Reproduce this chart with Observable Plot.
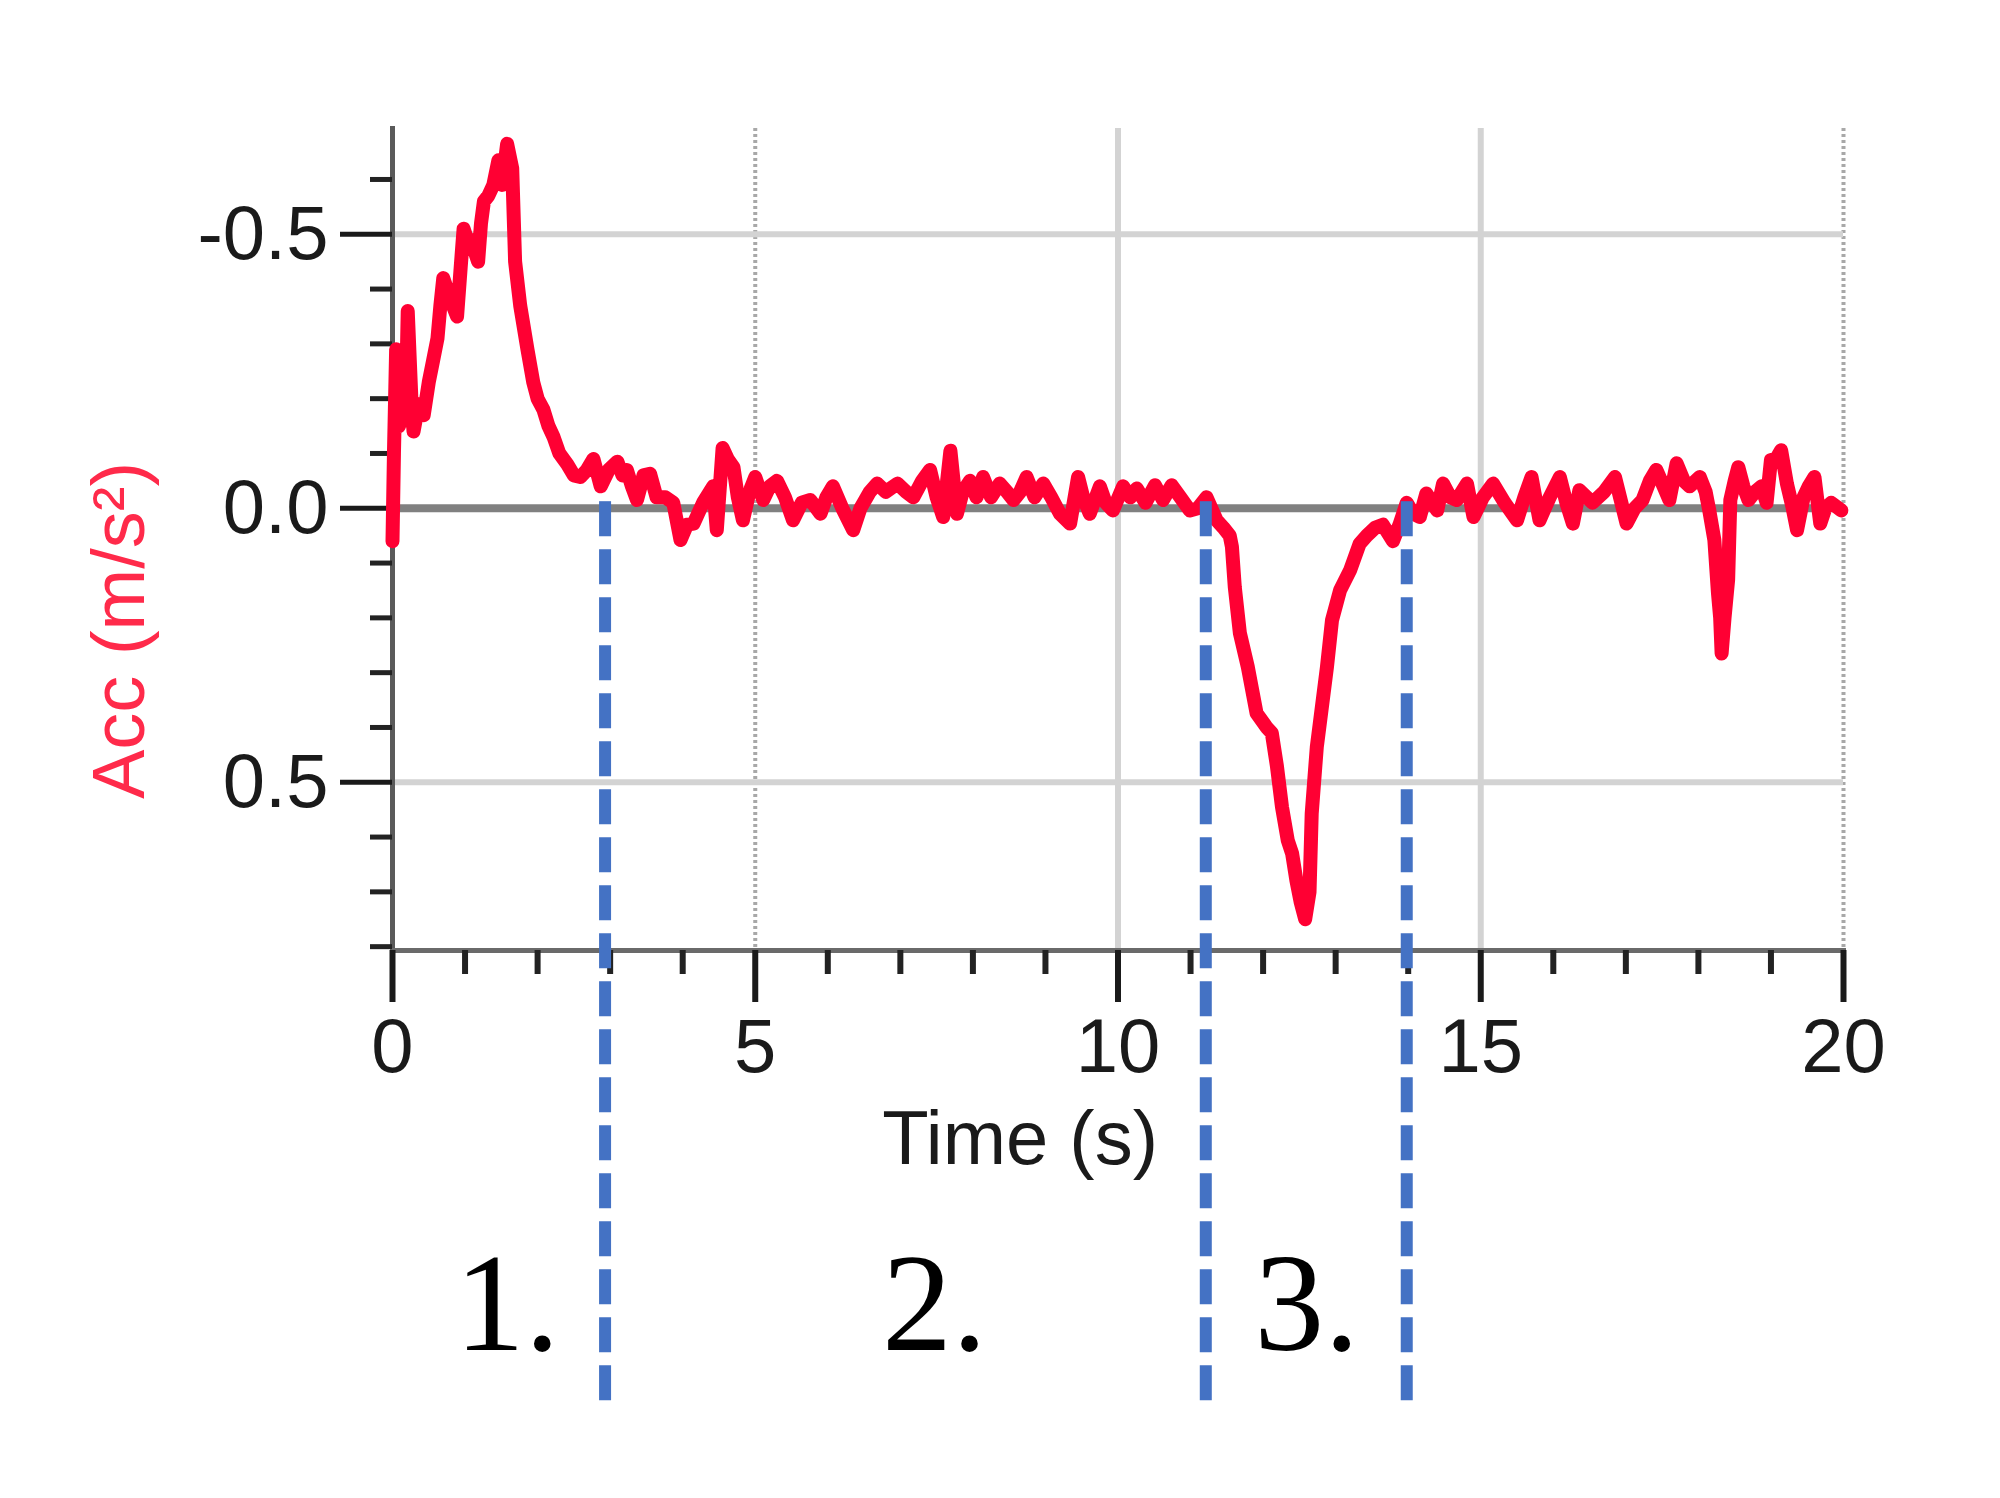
<!DOCTYPE html>
<html>
<head>
<meta charset="utf-8">
<script src="https://cdn.jsdelivr.net/npm/d3@7"></script>
<script src="https://cdn.jsdelivr.net/npm/@observablehq/plot@0.6"></script>
<style>
  html, body { margin: 0; padding: 0; background: #ffffff; }
  #chart svg { display: block; }
</style>
</head>
<body>
<div id="chart"></div>
<script>
// ---- data ----
const time = [
  0.00, 0.02, 0.05, 0.09, 0.14, 0.18, 0.21, 0.26, 0.29, 0.36, 0.43, 0.50, 0.56, 0.62, 0.66, 0.70,
  0.75, 0.80, 0.89, 0.94, 0.98, 1.03, 1.07, 1.13, 1.18, 1.22, 1.26, 1.32, 1.39, 1.46, 1.51, 1.58,
  1.65, 1.69, 1.76, 1.86, 1.94, 2.00, 2.08, 2.15, 2.22, 2.30, 2.41, 2.50, 2.59, 2.68, 2.77, 2.87,
  2.98, 3.10, 3.17, 3.23, 3.30, 3.37, 3.46, 3.55, 3.64, 3.76, 3.87, 3.97, 4.06, 4.15, 4.28, 4.42,
  4.47, 4.55, 4.62, 4.70, 4.76, 4.83, 4.92, 5.00, 5.11, 5.20, 5.30, 5.41, 5.52, 5.64, 5.76, 5.90,
  5.98, 6.07, 6.20, 6.35, 6.45, 6.58, 6.68, 6.80, 6.96, 7.08, 7.18, 7.30, 7.41, 7.50, 7.59, 7.69,
  7.78, 7.86, 7.96, 8.05, 8.14, 8.25, 8.37, 8.47, 8.56, 8.65, 8.74, 8.85, 8.97, 9.08, 9.20, 9.34,
  9.45, 9.52, 9.61, 9.75, 9.83, 9.93, 10.07, 10.17, 10.26, 10.38, 10.51, 10.62, 10.74, 10.86, 10.99, 11.10,
  11.22, 11.36, 11.45, 11.54, 11.57, 11.61, 11.68, 11.79, 11.91, 12.05, 12.12, 12.19, 12.26, 12.34, 12.40, 12.46,
  12.52, 12.58, 12.64, 12.67, 12.74, 12.81, 12.88, 12.95, 13.06, 13.20, 13.33, 13.43, 13.55, 13.65, 13.79, 13.88,
  13.98, 14.07, 14.16, 14.25, 14.40, 14.48, 14.58, 14.67, 14.81, 14.90, 15.03, 15.17, 15.33, 15.50, 15.60, 15.70,
  15.81, 15.95, 16.09, 16.18, 16.27, 16.36, 16.54, 16.70, 16.85, 17.01, 17.12, 17.23, 17.33, 17.42, 17.52, 17.60,
  17.70, 17.80, 17.88, 18.02, 18.10, 18.15, 18.22, 18.27, 18.30, 18.32, 18.36, 18.41, 18.44, 18.50, 18.55, 18.62,
  18.69, 18.78, 18.87, 18.94, 19.00, 19.07, 19.14, 19.22, 19.30, 19.36, 19.45, 19.52, 19.60, 19.68, 19.75, 19.83,
  19.97
];
const acc = [
  0.06, -0.10, -0.29, -0.15, -0.22, -0.16, -0.36, -0.20, -0.14, -0.19, -0.17, -0.23, -0.27, -0.31, -0.37, -0.42,
  -0.40, -0.38, -0.35, -0.44, -0.51, -0.49, -0.49, -0.47, -0.45, -0.52, -0.56, -0.57, -0.59, -0.635, -0.59, -0.665,
  -0.62, -0.45, -0.37, -0.29, -0.23, -0.20, -0.18, -0.15, -0.13, -0.10, -0.08, -0.06, -0.057, -0.07, -0.09, -0.04,
  -0.07, -0.085, -0.06, -0.07, -0.04, -0.015, -0.06, -0.063, -0.02, -0.02, -0.01, 0.058, 0.03, 0.028, -0.01, -0.04,
  0.04, -0.11, -0.09, -0.075, -0.02, 0.022, -0.03, -0.057, -0.015, -0.04, -0.05, -0.02, 0.022, -0.01, -0.015, 0.01,
  -0.02, -0.04, 0.0, 0.04, 0.0, -0.03, -0.045, -0.03, -0.045, -0.03, -0.02, -0.05, -0.07, -0.02, 0.016, -0.105,
  0.01, -0.03, -0.05, -0.02, -0.057, -0.02, -0.045, -0.03, -0.015, -0.03, -0.057, -0.02, -0.045, -0.02, 0.01, 0.028,
  -0.057, -0.02, 0.01, -0.04, -0.01, 0.004, -0.04, -0.02, -0.036, -0.01, -0.042, -0.015, -0.042, -0.02, 0.004, 0.0,
  -0.02, 0.022, 0.035, 0.05, 0.07, 0.144, 0.228, 0.29, 0.374, 0.40, 0.41, 0.47, 0.545, 0.606, 0.63, 0.68,
  0.72, 0.75, 0.70, 0.557, 0.436, 0.363, 0.29, 0.204, 0.15, 0.113, 0.065, 0.05, 0.035, 0.03, 0.06, 0.03,
  -0.01, 0.01, 0.016, -0.027, 0.004, -0.045, -0.02, -0.015, -0.045, 0.016, -0.02, -0.045, -0.01, 0.022, -0.02, -0.057,
  0.022, -0.02, -0.057, -0.01, 0.028, -0.033, -0.01, -0.03, -0.057, 0.028, 0.0, -0.015, -0.05, -0.07, -0.04, -0.015,
  -0.082, -0.05, -0.04, -0.057, -0.03, 0.004, 0.058, 0.155, 0.20, 0.265, 0.20, 0.13, -0.015, -0.05, -0.075, -0.04,
  -0.015, -0.03, -0.04, -0.01, -0.088, -0.09, -0.106, -0.045, 0.0, 0.04, -0.02, -0.04, -0.057, 0.028, 0.0, -0.01,
  0.004
];
const xTicks = [0, 5, 10, 15, 20];
const xMinorTicks = [1, 2, 3, 4, 6, 7, 8, 9, 11, 12, 13, 14, 16, 17, 18, 19];
const yTicks = [-0.5, 0, 0.5];
const yTickLabels = ["-0.5", "0.0", "0.5"];
const yMinorTicks = [-0.6, -0.4, -0.3, -0.2, -0.1, 0.1, 0.2, 0.3, 0.4, 0.6, 0.7, 0.8];
const xGridSolid = [10, 15];
const xGridDotted = [5, 20];
const yGrid = [-0.5, 0.5];
const dividers = [2.93, 11.21, 13.98];
const dividerEnd = 1.651;          // acceleration value where the dashed dividers stop (below the axis)
const sectionLabels = ["1.", "2.", "3."];
const sectionTimes = [1.58, 7.47, 12.6];
const xLabel = "Time (s)";
const xLabelTime = 8.65;
const yLabel = "Acc (m/s²)";

// ---- chart ----
const data = time.map((t, i) => ({t, a: acc[i]}));
const sansFont = "'Liberation Sans Narrow','Liberation Sans',Arial,sans-serif";

const chart = Plot.plot({
  width: 2000,
  height: 1498,
  marginLeft: 392,
  marginRight: 157,
  marginTop: 128,
  marginBottom: 548,
  style: {background: "#ffffff", overflow: "visible", fontFamily: sansFont},
  x: {domain: [0, 20]},
  y: {domain: [-0.693, 0.807], reverse: true},
  marks: [
    Plot.ruleX(xGridSolid, {stroke: "#d3d3d3", strokeWidth: 6}),
    Plot.ruleX(xGridDotted, {stroke: "#a8a8a8", strokeWidth: 4, strokeDasharray: "3,3"}),
    Plot.ruleY(yGrid, {stroke: "#d3d3d3", strokeWidth: 6}),
    Plot.ruleY([0], {stroke: "#808080", strokeWidth: 8}),
    Plot.frame({anchor: "left", stroke: "#5a5a5a", strokeWidth: 5}),
    Plot.frame({anchor: "bottom", stroke: "#6a6a6a", strokeWidth: 5}),
    Plot.axisY(yMinorTicks, {anchor: "left", tickSize: 22, tickFormat: () => "", label: null, stroke: "#222", strokeWidth: 5}),
    Plot.axisY(yTicks, {
      anchor: "left", tickSize: 52, tickPadding: 12, label: null,
      tickFormat: d => yTickLabels[yTicks.indexOf(d)],
      fontSize: 76, fontFamily: sansFont, color: "#1a1a1a", strokeWidth: 5
    }),
    Plot.axisX(xMinorTicks, {anchor: "bottom", tickSize: 24, tickFormat: () => "", label: null, stroke: "#222", strokeWidth: 6}),
    Plot.axisX(xTicks, {
      anchor: "bottom", tickSize: 52, tickPadding: 16, label: null,
      fontSize: 76, fontFamily: sansFont, color: "#1a1a1a", strokeWidth: 6
    }),
    Plot.line(data, {x: "t", y: "a", stroke: "#ff0033", strokeWidth: 14, strokeLinejoin: "round", clip: false}),
    Plot.ruleX(dividers, {y1: -0.012, y2: dividerEnd, stroke: "#4472c4", strokeWidth: 12, strokeDasharray: "35,13"}),
    Plot.text([xLabel], {
      x: xLabelTime, frameAnchor: "bottom", dy: 213, lineAnchor: "bottom",
      fontSize: 76, fontFamily: sansFont, fill: "#1a1a1a"
    }),
    Plot.text([yLabel], {
      frameAnchor: "left", dx: -249, dy: 91, rotate: -90, lineAnchor: "bottom", textAnchor: "middle",
      fontSize: 74, fontFamily: sansFont, fill: "#ff2a4a"
    }),
    Plot.text(sectionLabels, {
      x: (d, i) => sectionTimes[i], frameAnchor: "bottom", dy: 399, lineAnchor: "bottom",
      fontSize: 140, fontFamily: "'Liberation Serif','DejaVu Serif',serif", fill: "#000"
    })
  ]
});

document.getElementById("chart").appendChild(chart);
</script>
</body>
</html>
